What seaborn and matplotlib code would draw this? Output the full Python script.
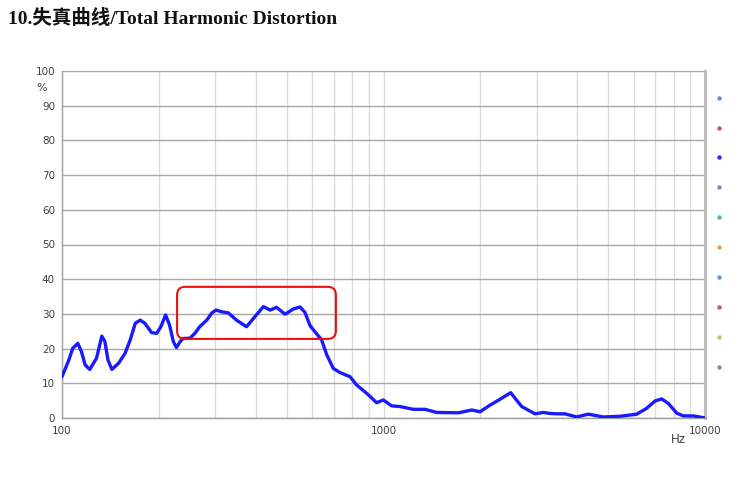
import matplotlib
matplotlib.use("Agg")
import matplotlib.pyplot as plt
import seaborn as sns
import pandas as pd
from matplotlib.lines import Line2D
from matplotlib.patches import FancyBboxPatch
from matplotlib.ticker import LogLocator, FixedLocator, NullFormatter

# THD curve (Hz, %)
freq = [100, 105, 108, 112, 115, 118, 122, 128, 133, 136, 139, 143, 150, 157,
        163, 169, 175, 181, 190, 197, 203, 210, 216, 222, 227, 233, 238, 250,
        259, 268, 282, 292, 301, 314, 329, 349, 375, 398, 423, 444, 465, 494,
        524, 550, 570, 591, 615, 642, 666, 698, 732, 787, 825, 887, 952, 999,
        1060, 1125, 1238, 1346, 1464, 1709, 1881, 1996, 2143, 2304, 2416,
        2487, 2565, 2692, 2959, 3141, 3300, 3457, 3668, 3990, 4335, 4829,
        5441, 6131, 6586, 6990, 7332, 7690, 8166, 8563, 9198, 9885, 10000]
thd = [11.9, 16.7, 20.1, 21.5, 19.1, 15.3, 14.0, 17.2, 23.6, 22.0, 16.7, 14.0,
       15.8, 18.6, 22.5, 27.3, 28.2, 27.3, 24.6, 24.4, 26.3, 29.7, 26.8, 22.0,
       20.3, 22.0, 22.9, 23.0, 24.4, 26.3, 28.2, 30.2, 31.1, 30.6, 30.3, 28.2,
       26.3, 29.2, 32.1, 31.1, 31.9, 29.9, 31.4, 32.0, 30.4, 26.6, 24.6, 22.5,
       18.2, 14.3, 13.1, 11.9, 9.5, 7.1, 4.4, 5.2, 3.5, 3.3, 2.5, 2.5, 1.6,
       1.5, 2.3, 1.8, 3.7, 5.4, 6.6, 7.3, 5.7, 3.3, 1.2, 1.6, 1.3, 1.2, 1.2,
       0.3, 1.1, 0.3, 0.5, 1.1, 2.8, 4.9, 5.5, 4.2, 1.4, 0.6, 0.6, 0.1, 0.0]

y_ticks = list(range(0, 101, 10))
x_ticks = [100, 1000, 10000]
x_tick_labels = ["100", "1000", "10000"]

# highlighted region (Hz range, % range)
box_freq = [228, 711]
box_thd = [22.8, 37.8]

# small coloured series markers on the right edge
legend_colors = ["#6f8fc4", "#c45a5a", "#2a2aff", "#8a84b4", "#62aebe",
                 "#e0a066", "#6896c8", "#d45a5a", "#b4c864", "#9684c4"]

df = pd.DataFrame({"freq": freq, "thd": thd})

sns.set_theme(style="white")
plt.rcParams["font.family"] = ["DejaVu Sans", "Noto Sans CJK SC"]

fig = plt.figure(figsize=(7.4, 4.95), dpi=100)
ax = fig.add_axes([62 / 740, 1 - 418 / 495, 643 / 740, 347 / 495])

sns.lineplot(data=df, x="freq", y="thd", ax=ax, color="#1a1aff",
             linewidth=2.4, zorder=5, solid_joinstyle="round",
             solid_capstyle="round")

ax.set_xscale("log")
ax.set_xlim(100, 10000)
ax.set_ylim(0, 100)

ax.xaxis.set_major_locator(FixedLocator(x_ticks))
ax.set_xticklabels(x_tick_labels)
ax.xaxis.set_minor_locator(LogLocator(base=10, subs=range(2, 10)))
ax.xaxis.set_minor_formatter(NullFormatter())
ax.set_yticks(y_ticks)
ax.set_yticklabels([str(v) for v in y_ticks])

ax.grid(axis="y", which="major", color="#a8a8a8", linewidth=1.0)
ax.grid(axis="x", which="both", color="#dadada", linewidth=1.0)
ax.set_axisbelow(True)

ax.tick_params(axis="y", length=3, width=0.8, color="#888888",
               labelsize=7.5, labelcolor="#404040", pad=2)
ax.tick_params(axis="x", which="both", length=0, labelsize=7.5,
               labelcolor="#404040", pad=6)

for side in ["left", "bottom"]:
    ax.spines[side].set_color("#a0a0a0")
    ax.spines[side].set_linewidth(1.0)
ax.spines["right"].set_color("#b8b8b8")
ax.spines["right"].set_linewidth(2.0)
ax.spines["top"].set_visible(False)

ax.set_xlabel("")
ax.set_ylabel("")

ax.text(-0.032, 0.95, "%", transform=ax.transAxes, fontsize=8,
        color="#404040", ha="center", va="center")
ax.text(0.958, -0.063, "Hz", transform=ax.transAxes, fontsize=8.5,
        color="#404040", ha="center", va="center")

# red rounded box, corners taken from data coords
(x0, y0) = ax.transData.transform((box_freq[0], box_thd[0]))
(x1, y1) = ax.transData.transform((box_freq[1], box_thd[1]))
box = FancyBboxPatch((x0, y0), x1 - x0, y1 - y0,
                     boxstyle="round,pad=0,rounding_size=8",
                     transform=None, fill=False, edgecolor="#e81010",
                     linewidth=1.5, zorder=6)
fig.patches.append(box)

handles = [Line2D([], [], marker="o", markersize=2.2, linestyle="",
                  color=c) for c in legend_colors]
ax.legend(handles, [""] * len(handles), loc="upper left",
          bbox_to_anchor=(1.005, 0.951), frameon=False, fontsize=8,
          labelspacing=1.79, handlelength=1.0, borderpad=0, handletextpad=0)

fig.text(8 / 740, 1 - 18 / 495, "10.失真曲线/Total Harmonic Distortion",
         fontsize=14, fontweight="bold", va="center", ha="left",
         family=["Liberation Serif", "Noto Sans CJK SC"], color="#111111")

fig.savefig("out.png", dpi=100)
